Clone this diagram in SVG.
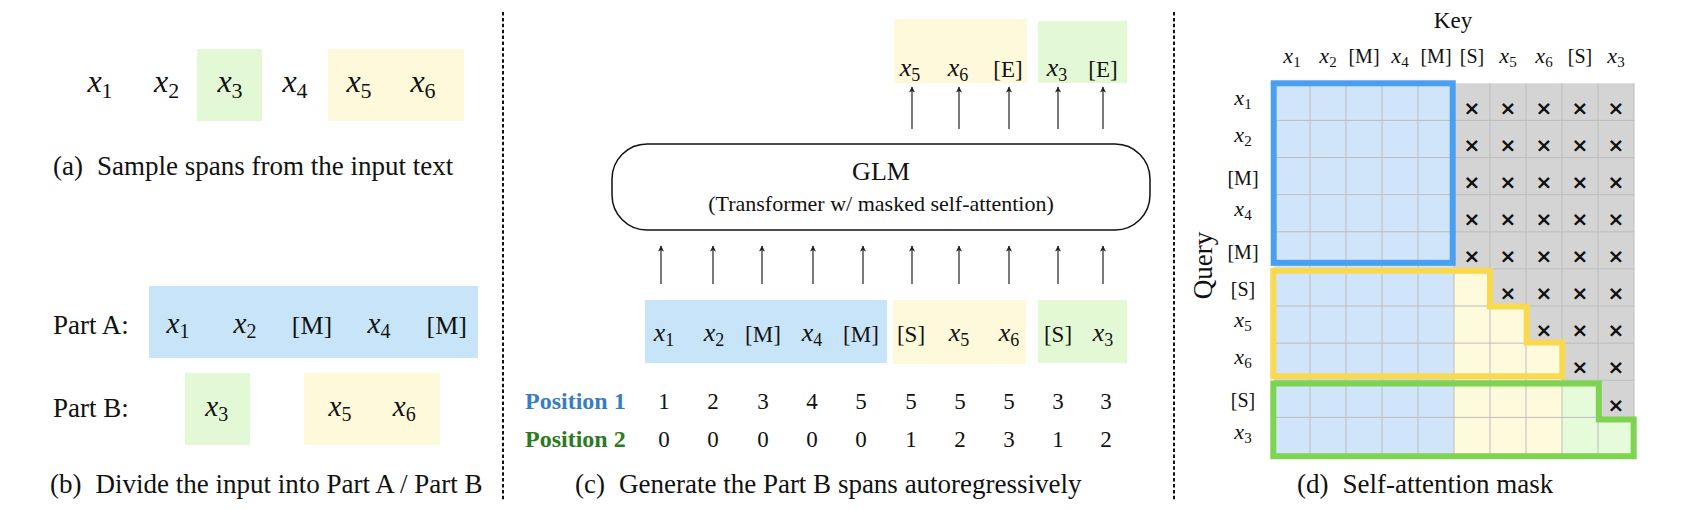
<svg xmlns="http://www.w3.org/2000/svg" width="1700" height="510" viewBox="0 0 1700 510">
<style>
text { font-family: "Liberation Serif", "Times New Roman", serif; fill: #111; }
.cap { font-size: 27px; }
.lbl { font-size: 27px; }
.i { font-style: italic; }
.mid { text-anchor: middle; }
.blue { fill: #c7e4f9; }
.yel { fill: #fdf9da; }
.grn { fill: #e3f9d5; }
.arrow { stroke: #333; stroke-width: 1.3; fill: none; marker-end: url(#ah); }
.dash { stroke: #111; stroke-width: 2; stroke-dasharray: 3.5 2.4; fill: none; }
.pos { font-size: 24px; font-weight: bold; }
.num { font-size: 23px; text-anchor: middle; }
.gl { stroke: #bdbdbd; stroke-width: 1; fill: none; }
.x { font-family: "DejaVu Sans", sans-serif; font-size: 20px; font-weight: bold; text-anchor: middle; fill: #111; }
</style>
<defs>
<marker id="ah" viewBox="0 0 10 10" refX="9" refY="5" markerWidth="7" markerHeight="6" markerUnits="userSpaceOnUse" orient="auto">
<path d="M0,0 L10,5 L0,10 L2.5,5 Z" fill="#222"/>
</marker>
</defs>
<rect width="1700" height="510" fill="#fff"/>

<!-- separators -->
<g id="separators">
<line class="dash" x1="503" y1="12" x2="503" y2="500"/>
<line class="dash" x1="1174" y1="12" x2="1174" y2="500"/>
</g>

<!-- (a) -->
<g id="panel-a">
<rect class="grn" x="197" y="49" width="65" height="72"/>
<rect class="yel" x="328" y="49" width="136" height="72"/>
<g font-size="32">
<text class="mid" x="100" y="92"><tspan class="i">x</tspan><tspan font-size="22" dy="6">1</tspan></text>
<text class="mid" x="166.7" y="92"><tspan class="i">x</tspan><tspan font-size="22" dy="6">2</tspan></text>
<text class="mid" x="230" y="92"><tspan class="i">x</tspan><tspan font-size="22" dy="6">3</tspan></text>
<text class="mid" x="295" y="92"><tspan class="i">x</tspan><tspan font-size="22" dy="6">4</tspan></text>
<text class="mid" x="359" y="92"><tspan class="i">x</tspan><tspan font-size="22" dy="6">5</tspan></text>
<text class="mid" x="423" y="92"><tspan class="i">x</tspan><tspan font-size="22" dy="6">6</tspan></text>
</g>
<text class="cap" x="53" y="175">(a)<tspan dx="14">Sample spans from the input text</tspan></text>
</g>

<!-- (b) -->
<g id="panel-b">
<rect class="blue" x="149" y="286" width="329" height="72"/>
<rect class="grn" x="185" y="373" width="65" height="72"/>
<rect class="yel" x="304" y="373" width="136" height="72"/>
<text class="lbl" x="53" y="334">Part A:</text>
<text class="lbl" x="53" y="417">Part B:</text>
<g font-size="29">
<text class="mid" x="178" y="333"><tspan class="i">x</tspan><tspan font-size="20" dy="5">1</tspan></text>
<text class="mid" x="245" y="333"><tspan class="i">x</tspan><tspan font-size="20" dy="5">2</tspan></text>
<text class="mid" x="312" y="334" font-size="26">[M]</text>
<text class="mid" x="379" y="333"><tspan class="i">x</tspan><tspan font-size="20" dy="5">4</tspan></text>
<text class="mid" x="446.7" y="334" font-size="26">[M]</text>
<text class="mid" x="216.7" y="416"><tspan class="i">x</tspan><tspan font-size="20" dy="5">3</tspan></text>
<text class="mid" x="340" y="416"><tspan class="i">x</tspan><tspan font-size="20" dy="5">5</tspan></text>
<text class="mid" x="404.3" y="416"><tspan class="i">x</tspan><tspan font-size="20" dy="5">6</tspan></text>
</g>
<text class="cap" x="50" y="493">(b)<tspan dx="14">Divide the input into Part A / Part B</tspan></text>
</g>

<!-- (c) -->
<g id="panel-c">
<g id="glm">
<rect x="612" y="144" width="538" height="86" rx="35" ry="35" fill="#fff" stroke="#111" stroke-width="1.5"/>
<text class="mid" x="881" y="180" font-size="26">GLM</text>
<text class="mid" x="881" y="211" font-size="22">(Transformer w/ masked self-attention)</text>
</g>
<g id="outputs">
<rect class="yel" x="894" y="19" width="133" height="64"/>
<rect class="grn" x="1038" y="21" width="89" height="62"/>
<g font-size="26">
<text class="mid" x="910" y="76"><tspan class="i">x</tspan><tspan font-size="18" dy="5">5</tspan></text>
<text class="mid" x="958" y="76"><tspan class="i">x</tspan><tspan font-size="18" dy="5">6</tspan></text>
<text class="mid" x="1008" y="77" font-size="23">[E]</text>
<text class="mid" x="1057" y="76"><tspan class="i">x</tspan><tspan font-size="18" dy="5">3</tspan></text>
<text class="mid" x="1103" y="77" font-size="23">[E]</text>
</g>
</g>
<g id="inputs">
<rect class="blue" x="645" y="300" width="242" height="63"/>
<rect class="yel" x="893" y="300" width="133" height="64"/>
<rect class="grn" x="1038" y="300" width="89" height="63"/>
<g font-size="26">
<text class="mid" x="664" y="341"><tspan class="i">x</tspan><tspan font-size="18" dy="5">1</tspan></text>
<text class="mid" x="714" y="341"><tspan class="i">x</tspan><tspan font-size="18" dy="5">2</tspan></text>
<text class="mid" x="763" y="342" font-size="23">[M]</text>
<text class="mid" x="812" y="341"><tspan class="i">x</tspan><tspan font-size="18" dy="5">4</tspan></text>
<text class="mid" x="861" y="342" font-size="23">[M]</text>
<text class="mid" x="911" y="342" font-size="23">[S]</text>
<text class="mid" x="959" y="341"><tspan class="i">x</tspan><tspan font-size="18" dy="5">5</tspan></text>
<text class="mid" x="1009" y="341"><tspan class="i">x</tspan><tspan font-size="18" dy="5">6</tspan></text>
<text class="mid" x="1058" y="342" font-size="23">[S]</text>
<text class="mid" x="1103" y="341"><tspan class="i">x</tspan><tspan font-size="18" dy="5">3</tspan></text>
</g>
</g>
<g id="positions">
<text class="pos" x="525" y="409" style="fill:#3a7dbe">Position 1</text>
<text class="pos" x="525" y="447" style="fill:#2e7a22">Position 2</text>
<text class="num" x="664" y="409">1</text>
<text class="num" x="713" y="409">2</text>
<text class="num" x="763" y="409">3</text>
<text class="num" x="812" y="409">4</text>
<text class="num" x="861" y="409">5</text>
<text class="num" x="911" y="409">5</text>
<text class="num" x="960" y="409">5</text>
<text class="num" x="1009" y="409">5</text>
<text class="num" x="1058" y="409">3</text>
<text class="num" x="1106" y="409">3</text>
<text class="num" x="664" y="447">0</text>
<text class="num" x="713" y="447">0</text>
<text class="num" x="763" y="447">0</text>
<text class="num" x="812" y="447">0</text>
<text class="num" x="861" y="447">0</text>
<text class="num" x="911" y="447">1</text>
<text class="num" x="960" y="447">2</text>
<text class="num" x="1009" y="447">3</text>
<text class="num" x="1058" y="447">1</text>
<text class="num" x="1106" y="447">2</text>
</g>
<text class="cap" x="575" y="493">(c)<tspan dx="14">Generate the Part B spans autoregressively</tspan></text>
</g>

<!-- connectors -->
<g id="connectors">
<line class="arrow" x1="661" y1="284" x2="661" y2="246"/>
<line class="arrow" x1="713" y1="284" x2="713" y2="246"/>
<line class="arrow" x1="762" y1="284" x2="762" y2="246"/>
<line class="arrow" x1="813" y1="284" x2="813" y2="246"/>
<line class="arrow" x1="863" y1="284" x2="863" y2="246"/>
<line class="arrow" x1="912" y1="284" x2="912" y2="246"/>
<line class="arrow" x1="959" y1="284" x2="959" y2="246"/>
<line class="arrow" x1="1009" y1="284" x2="1009" y2="246"/>
<line class="arrow" x1="1058" y1="284" x2="1058" y2="246"/>
<line class="arrow" x1="1103" y1="284" x2="1103" y2="246"/>
<line class="arrow" x1="912" y1="129" x2="912" y2="87"/>
<line class="arrow" x1="959" y1="129" x2="959" y2="87"/>
<line class="arrow" x1="1009" y1="129" x2="1009" y2="87"/>
<line class="arrow" x1="1058" y1="129" x2="1058" y2="87"/>
<line class="arrow" x1="1103" y1="129" x2="1103" y2="87"/>
</g>

<!-- (d) -->
<g id="panel-d">
<text class="mid" x="1453" y="28" font-size="23">Key</text>
<text transform="translate(1212,265.5) rotate(-90)" class="mid" font-size="27">Query</text>
<g id="key-labels" font-size="22">
<text class="mid" x="1292" y="62.5"><tspan class="i">x</tspan><tspan font-size="15" dy="4">1</tspan></text>
<text class="mid" x="1328" y="62.5"><tspan class="i">x</tspan><tspan font-size="15" dy="4">2</tspan></text>
<text class="mid" x="1364" y="62.5" font-size="20">[M]</text>
<text class="mid" x="1400" y="62.5"><tspan class="i">x</tspan><tspan font-size="15" dy="4">4</tspan></text>
<text class="mid" x="1436" y="62.5" font-size="20">[M]</text>
<text class="mid" x="1472" y="62.5" font-size="20">[S]</text>
<text class="mid" x="1508" y="62.5"><tspan class="i">x</tspan><tspan font-size="15" dy="4">5</tspan></text>
<text class="mid" x="1544" y="62.5"><tspan class="i">x</tspan><tspan font-size="15" dy="4">6</tspan></text>
<text class="mid" x="1580" y="62.5" font-size="20">[S]</text>
<text class="mid" x="1616" y="62.5"><tspan class="i">x</tspan><tspan font-size="15" dy="4">3</tspan></text>
</g>
<g id="query-labels" font-size="22">
<text class="mid" x="1243" y="104.5"><tspan class="i">x</tspan><tspan font-size="15" dy="4">1</tspan></text>
<text class="mid" x="1243" y="141.6"><tspan class="i">x</tspan><tspan font-size="15" dy="4">2</tspan></text>
<text class="mid" x="1243" y="184.6" font-size="20">[M]</text>
<text class="mid" x="1243" y="215.8"><tspan class="i">x</tspan><tspan font-size="15" dy="4">4</tspan></text>
<text class="mid" x="1243" y="258.8" font-size="20">[M]</text>
<text class="mid" x="1243" y="296" font-size="20">[S]</text>
<text class="mid" x="1243" y="327.2"><tspan class="i">x</tspan><tspan font-size="15" dy="4">5</tspan></text>
<text class="mid" x="1243" y="364.3"><tspan class="i">x</tspan><tspan font-size="15" dy="4">6</tspan></text>
<text class="mid" x="1243" y="407.3" font-size="20">[S]</text>
<text class="mid" x="1243" y="438.5"><tspan class="i">x</tspan><tspan font-size="15" dy="4">3</tspan></text>
</g>
<g id="mask">
<rect x="1274" y="83.3" width="360" height="371.2" fill="#d4d4d4"/>
<rect x="1274" y="83.3" width="180" height="371.2" fill="#d0e5fa"/>
<path d="M1454,268.9 H1490 V306.02 H1526 V343.14 H1562 V454.5 H1454 Z" fill="#fefadc"/>
<path d="M1562,380.26 H1598 V417.38 H1634 V454.5 H1562 Z" fill="#e6fbd9"/>
<path class="gl" d="M1310,83.3V454.5 M1346,83.3V454.5 M1382,83.3V454.5 M1418,83.3V454.5 M1454,83.3V454.5 M1490,83.3V454.5 M1526,83.3V454.5 M1562,83.3V454.5 M1598,83.3V454.5 M1634,83.3V454.5 M1274,120.42H1634 M1274,157.54H1634 M1274,194.66H1634 M1274,231.78H1634 M1274,268.9H1634 M1274,306.02H1634 M1274,343.14H1634 M1274,380.26H1634 M1274,417.38H1634 M1274,454.5H1634"/>
<g id="crosses">
<text class="x" x="1472" y="114.5">×</text><text class="x" x="1508" y="114.5">×</text><text class="x" x="1544" y="114.5">×</text><text class="x" x="1580" y="114.5">×</text><text class="x" x="1616" y="114.5">×</text>
<text class="x" x="1472" y="151.6">×</text><text class="x" x="1508" y="151.6">×</text><text class="x" x="1544" y="151.6">×</text><text class="x" x="1580" y="151.6">×</text><text class="x" x="1616" y="151.6">×</text>
<text class="x" x="1472" y="188.8">×</text><text class="x" x="1508" y="188.8">×</text><text class="x" x="1544" y="188.8">×</text><text class="x" x="1580" y="188.8">×</text><text class="x" x="1616" y="188.8">×</text>
<text class="x" x="1472" y="225.9">×</text><text class="x" x="1508" y="225.9">×</text><text class="x" x="1544" y="225.9">×</text><text class="x" x="1580" y="225.9">×</text><text class="x" x="1616" y="225.9">×</text>
<text class="x" x="1472" y="263">×</text><text class="x" x="1508" y="263">×</text><text class="x" x="1544" y="263">×</text><text class="x" x="1580" y="263">×</text><text class="x" x="1616" y="263">×</text>
<text class="x" x="1508" y="300.1">×</text><text class="x" x="1544" y="300.1">×</text><text class="x" x="1580" y="300.1">×</text><text class="x" x="1616" y="300.1">×</text>
<text class="x" x="1544" y="337.3">×</text><text class="x" x="1580" y="337.3">×</text><text class="x" x="1616" y="337.3">×</text>
<text class="x" x="1580" y="374.4">×</text><text class="x" x="1616" y="374.4">×</text>
<text class="x" x="1616" y="411.5">×</text>
</g>
<rect x="1273.7" y="83.3" width="179" height="179.5" fill="none" stroke="#4a9ff0" stroke-width="6"/>
<path d="M1273.3,270.7 H1490 V306.5 H1526.7 V342.5 H1562.3 V376.3 H1273.3 Z" fill="none" stroke="#f9d94e" stroke-width="6"/>
<path d="M1273.3,383.5 H1598.8 V419.6 H1633.7 V456.2 H1273.3 Z" fill="none" stroke="#7ed451" stroke-width="6"/>
</g>
<text class="cap" x="1297" y="493">(d)<tspan dx="14">Self-attention mask</tspan></text>
</g>
</svg>
